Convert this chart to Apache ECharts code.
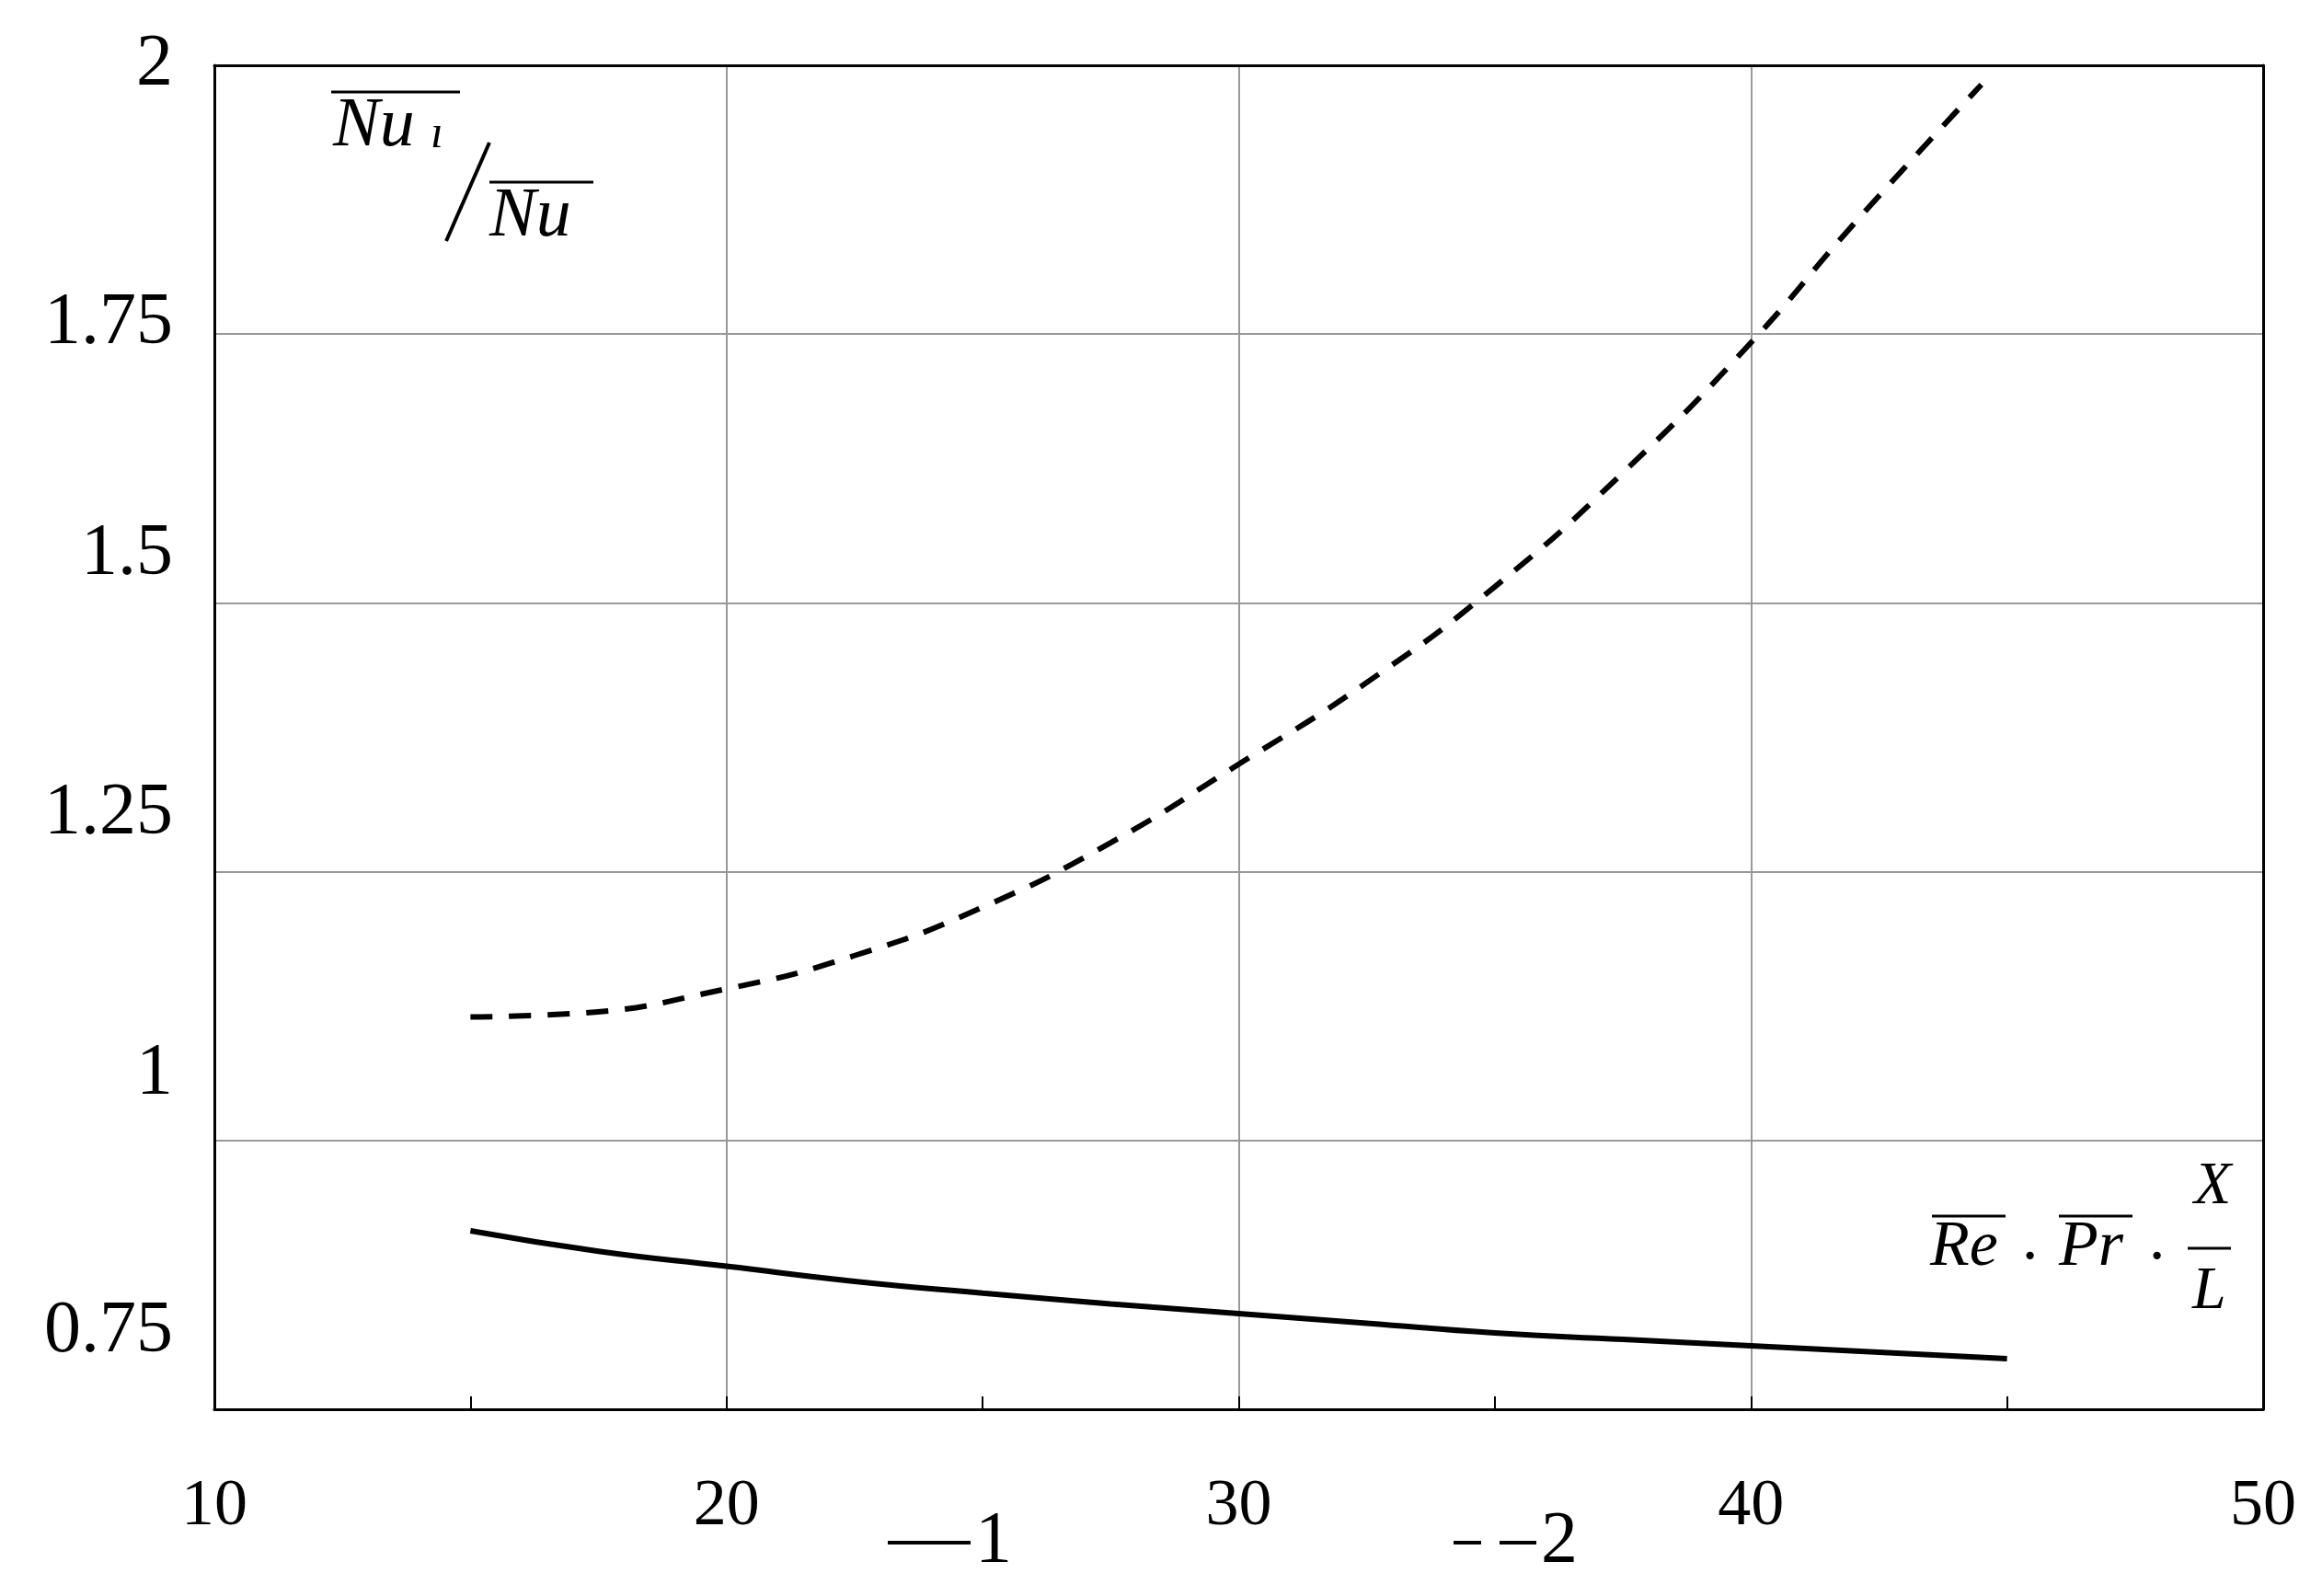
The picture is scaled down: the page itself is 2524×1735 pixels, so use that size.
<!DOCTYPE html>
<html><head><meta charset="utf-8">
<script src="https://cdn.jsdelivr.net/npm/echarts@6/dist/echarts.min.js"></script>
<style>html,body{margin:0;background:#fff}#c{width:2524px;height:1735px}</style>
</head><body><div id="c"></div>
<script>
const xTicks = [10, 20, 30, 40, 50];
const yTicks = [0.75, 1, 1.25, 1.5, 1.75, 2];
const curve1X = [15, 17.5, 20, 22.5, 25, 27.5, 30, 32.5, 35, 37.5, 40, 42.5, 45];
const curve1Y = [0.916, 0.897, 0.883, 0.869, 0.858, 0.848, 0.839, 0.830, 0.821, 0.815, 0.809, 0.803, 0.797];
const curve2X = [15, 17, 20, 22.5, 25, 27.5, 30, 32.5, 35, 37.5, 40, 42, 44.5];
const curve2Y = [1.115, 1.118, 1.141, 1.172, 1.217, 1.277, 1.35, 1.426, 1.515, 1.621, 1.742, 1.852, 1.982];

const F = '"Liberation Serif", serif';
const chart = echarts.init(document.getElementById('c'));
const pairs = (xs, ys) => xs.map((x, i) => [x, ys[i]]);
const ovl = (x1, x2, y) => ({type:'line', shape:{x1, y1:y, x2, y2:y}, style:{stroke:'#000', lineWidth:3}});
const txt = (x, y, t, size, italic) => ({type:'text', x, y, style:{text:t, font:(italic?'italic ':'') + size + 'px ' + F, fill:'#000'}});
const lift = [168, 144, 126, 104, 22, 0];
const rich = {};
lift.forEach((p, i) => { rich['a' + i] = {fontSize: 80, fontFamily: F, color: '#000', padding: [0, 0, p, 0]}; });
const frame = {show: true, lineStyle: {color: '#000', width: 3}};
chart.setOption({
  animation: false,
  grid: {left: 233, top: 71, width: 2227, height: 1461},
  xAxis: [{
    type: 'value', min: xTicks[0], max: xTicks[xTicks.length-1], interval: 10,
    axisLine: frame,
    axisTick: {show: true, inside: true, length: 14, lineStyle: {color: '#000', width: 2}},
    minorTick: {show: true, splitNumber: 2, length: 14, lineStyle: {color: '#000', width: 2}},
    splitLine: {show: true, lineStyle: {color: '#999', width: 2}},
    axisLabel: {margin: 70, fontSize: 72, fontFamily: F, color: '#000'}
  }, {
    type: 'value', position: 'top', min: 10, max: 50, axisLine: frame,
    axisTick: {show: false}, axisLabel: {show: false}, splitLine: {show: false}
  }],
  yAxis: [{
    type: 'value', min: yTicks[0], max: yTicks[yTicks.length-1], interval: 0.25,
    axisLine: frame,
    axisTick: {show: false},
    splitLine: {show: true, lineStyle: {color: '#999', width: 2}},
    axisLabel: {margin: 45, verticalAlign: 'middle',
      formatter: v => '{a' + yTicks.indexOf(v) + '|' + v + '}', rich}
  }, {
    type: 'value', position: 'right', min: 0.75, max: 2, axisLine: frame,
    axisTick: {show: false}, axisLabel: {show: false}, splitLine: {show: false}
  }],
  legend: {
    left: 960, top: 1632, itemGap: 480, itemWidth: 90, itemHeight: 20,
    textStyle: {fontSize: 80, fontFamily: F, color: '#000'},
    data: [{name: '1', icon: 'path://M0,8H90V12H0Z'},
           {name: '2', icon: 'path://M0,8H30V12H0Z M50,8H90V12H50Z'}]
  },
  series: [
    {name: '1', type: 'line', data: pairs(curve1X, curve1Y), smooth: true, showSymbol: false,
     lineStyle: {color: '#000', width: 6}, itemStyle: {color: '#000'}},
    {name: '2', type: 'line', data: pairs(curve2X, curve2Y), smooth: true, showSymbol: false,
     lineStyle: {color: '#000', width: 6, type: [24, 18]}, itemStyle: {color: '#000'}}
  ],
  graphic: [
    txt(362, 100, 'Nu', 76, true), txt(468, 122, 'ı', 50, true), ovl(360, 500, 100),
    {type:'line', shape:{x1:485, y1:262, x2:532, y2:155}, style:{stroke:'#000', lineWidth:4}},
    txt(532, 198, 'Nu', 76, true), ovl(532, 645, 198),
    txt(2098, 1322, 'Re', 70, true), ovl(2100, 2180, 1322),
    txt(2195, 1335, '·', 70, false),
    txt(2238, 1322, 'Pr', 70, true), ovl(2238, 2318, 1322),
    txt(2333, 1335, '·', 70, false),
    txt(2385, 1258, 'X', 66, true), ovl(2378, 2425, 1357), txt(2383, 1372, 'L', 66, true)
  ]
});
</script></body></html>
